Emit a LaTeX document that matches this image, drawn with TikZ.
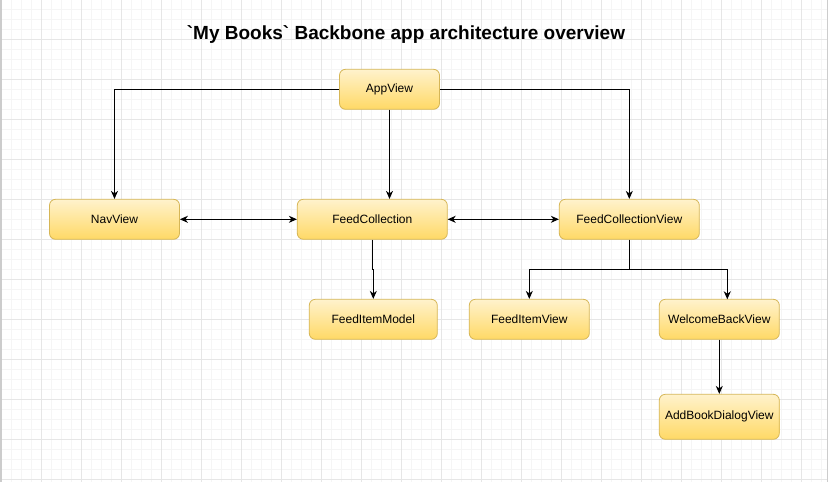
\documentclass[tikz,border=0pt]{standalone}
\usepackage{fontspec}
\setmainfont{Liberation Sans}
\usetikzlibrary{arrows.meta}
\definecolor{boxtop}{HTML}{FFF2CC}
\definecolor{boxbot}{HTML}{FFD966}
\definecolor{boxline}{HTML}{D6B656}
\definecolor{gridmajor}{HTML}{E6E6E6}
\definecolor{gridminor}{HTML}{F5F5F5}
\definecolor{edgegray}{HTML}{CCCCCC}
\tikzset{
  box/.style={rectangle, rounded corners=6pt, draw=boxline, line width=0.8pt,
    top color=boxtop, bottom color=boxbot, minimum height=40pt, inner sep=0pt,
    font=\fontsize{12}{14}\selectfont, text=black},
  arr/.style={-{Stealth[length=8pt,width=7pt,inset=2.5pt]}, line width=1pt, black},
  dbl/.style={{Stealth[length=8pt,width=7pt,inset=2.5pt]}-{Stealth[length=8pt,width=7pt,inset=2.5pt]}, line width=1pt, black},
  plain/.style={line width=1pt, black},
}
\begin{document}
\begin{tikzpicture}[x=1pt,y=-1pt]
\useasboundingbox (0,0) rectangle (828,482);
\fill[white] (0,0) rectangle (828,482);
% grid
\foreach \i in {0,...,82} {\draw[gridminor, line width=0.8pt] ({1.7+10*\i},0) -- ({1.7+10*\i},482);}
\foreach \j in {0,...,48} {\draw[gridminor, line width=0.8pt] (0,{-0.7+10*\j}) -- (828,{-0.7+10*\j});}
\foreach \i in {0,...,20} {\draw[gridmajor, line width=1pt] ({1.7+40*\i},0) -- ({1.7+40*\i},482);}
\foreach \j in {0,...,12} {\draw[gridmajor, line width=1pt] (0,{-0.7+40*\j}) -- (828,{-0.7+40*\j});}
\draw[edgegray, line width=1.5pt] (0.75,0) -- (0.75,482);
\draw[edgegray, line width=1.5pt] (827.25,0) -- (827.25,482);
% title
\node[font=\fontsize{19}{23}\selectfont\bfseries] (title) at (406,35) {\textasciigrave My Books\textasciigrave\ Backbone app architecture overview};
% nodes
\node[box, minimum width=100pt] (app) at (389.5,89.3) {AppView};
\node[box, minimum width=130pt] (nav) at (114.5,219.3) {NavView};
\node[box, minimum width=150pt] (fc) at (372.3,219.3) {FeedCollection};
\node[box, minimum width=140pt] (fcv) at (629.3,219.3) {FeedCollectionView};
\node[box, minimum width=128pt] (fim) at (373.3,319.3) {FeedItemModel};
\node[box, minimum width=120pt] (fiv) at (529.3,319.3) {FeedItemView};
\node[box, minimum width=120pt] (wbv) at (719.3,319.3) {WelcomeBackView};
\node[box, minimum width=120pt, minimum height=45pt] (abd) at (719.3,416.8) {AddBookDialogView};
% connectors
\draw[arr] (app.west) -| (nav.north);
\draw[arr] (app.south) -- (app.south |- fc.north);
\draw[arr] (app.east) -| (fcv.north);
\draw[dbl] (nav.east) -- (fc.west);
\draw[dbl] (fc.east) -- (fcv.west);
\coordinate (fcjog) at (372.3,269.3);
\draw[arr] (fc.south) -- (fcjog) -| (fim.north);
\coordinate (split) at (629.3,269.3);
\coordinate (wbvin) at (727.3,299.3);
\draw[plain] (fcv.south) -- (split);
\draw[arr] (split) -| (fiv.north);
\draw[arr] (split) -| (wbvin);
\draw[arr] (wbv.south) -- (abd.north);
\end{tikzpicture}
\end{document}
